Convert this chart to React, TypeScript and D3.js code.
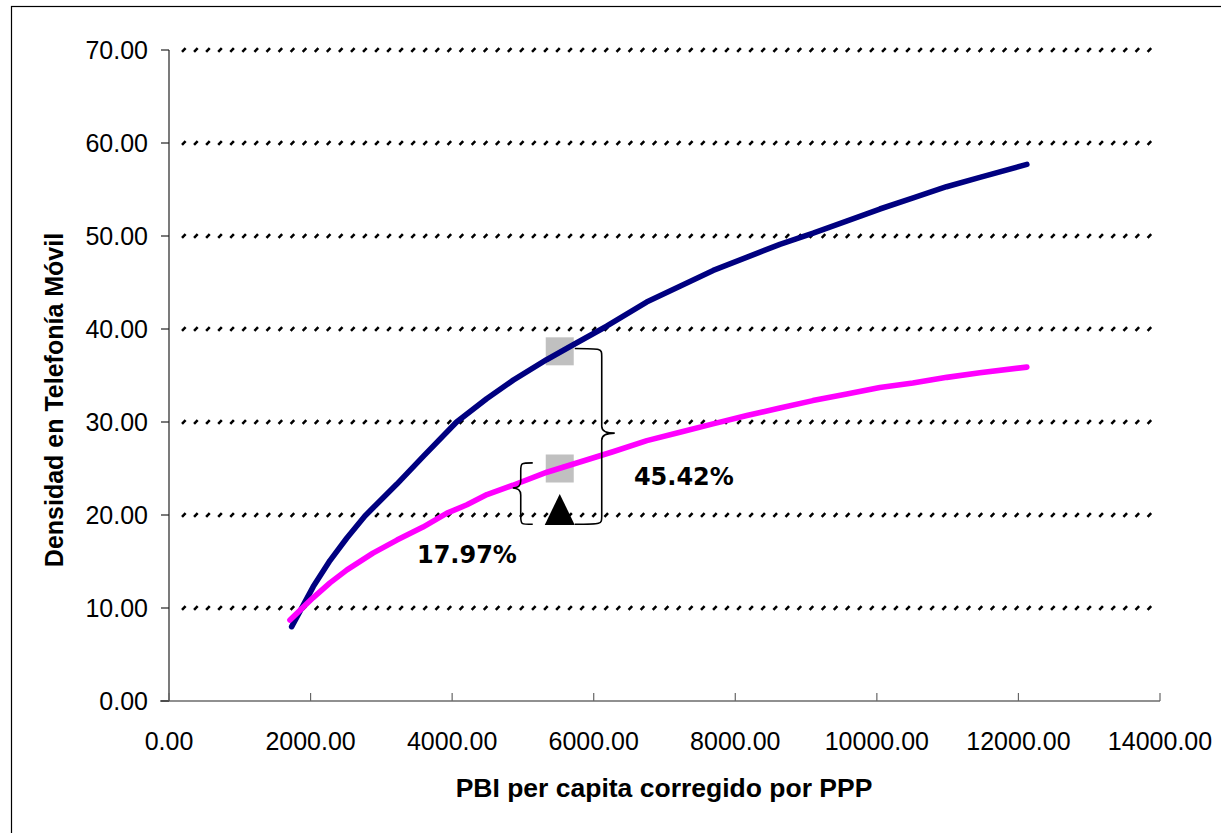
import React, {useRef, useEffect} from 'react';
import * as d3 from 'd3';

// PBI per capita (PPP) vs densidad movil - curva superior
const blueX = [1733, 2038, 2274, 2510, 2768, 3216, 3592, 4063, 4487, 4863, 5334, 5711, 6182, 6747, 7218, 7688, 8159, 8630, 9100, 9572, 10042, 10513, 10984, 11455, 12119];
const blueY = [7.99, 12.3, 15.1, 17.5, 19.9, 23.3, 26.3, 30.0, 32.5, 34.5, 36.7, 38.3, 40.3, 42.9, 44.6, 46.3, 47.7, 49.1, 50.3, 51.6, 52.9, 54.1, 55.3, 56.3, 57.7];

// curva inferior
const pinkX = [1709, 2034, 2274, 2514, 2881, 3220, 3588, 3927, 4209, 4492, 4859, 5339, 5805, 6271, 6751, 7218, 7684, 8164, 8630, 9096, 9576, 10042, 10508, 10989, 11455, 12119];
const pinkY = [8.7, 11.1, 12.7, 14.1, 15.9, 17.3, 18.7, 20.2, 21.1, 22.2, 23.2, 24.6, 25.7, 26.8, 28.0, 28.9, 29.8, 30.7, 31.5, 32.3, 33.0, 33.7, 34.2, 34.8, 35.3, 35.9];

const xTicks = [0, 2000, 4000, 6000, 8000, 10000, 12000, 14000];
const yTicks = [0, 10, 20, 30, 40, 50, 60, 70];

// marcadores y llaves
const markerX = 5520;
const squareY = [37.6, 25.0];
const triangleY = 20.6;
const smallBrace = {top: 25.6, tip: 22.9, bottom: 19.0};
const bigBrace = {top: 37.9, tip: 28.8, bottom: 19.0};
const labels = [
    {text: '45.42%', x: 6568, y: 23.2},
    {text: '17.97%', x: 3503, y: 14.84},
];

const W = 1221;
const H = 833;

const App: React.FC = () => {
    const svgRef = useRef<SVGSVGElement>(null);

    useEffect(() => {
        if (!svgRef.current) return;
        const svg = d3.select(svgRef.current);
        svg.selectAll('*').remove();

        const x = d3.scaleLinear().domain([0, 14000]).range([169, 1160]);
        const y = d3.scaleLinear().domain([0, 70]).range([701, 50]);

        // marco exterior
        svg.append('rect')
            .attr('x', 11.5).attr('y', 6.5)
            .attr('width', W + 20).attr('height', H + 20)
            .style('fill', '#fff').style('stroke', '#000').style('stroke-width', 1.2);

        // lineas de grilla punteadas
        const gx = d3.range(x(0) + 13, x(14000) - 4, 12.07);
        yTicks.filter(t => t > 0).forEach(t => {
            const yy = y(t);
            const d = gx.map(px => `M${px},${yy + 1.8}l3.6,-3.6`).join('');
            svg.append('path').attr('d', d)
                .style('stroke', '#000').style('stroke-width', 2.6).style('fill', 'none');
        });

        // ejes
        const axisColor = '#222';
        svg.append('line')
            .attr('x1', x(0)).attr('x2', x(0)).attr('y1', y(70)).attr('y2', y(0))
            .style('stroke', axisColor).style('stroke-width', 1.2);
        svg.append('line')
            .attr('x1', x(0) - 9).attr('x2', x(14000)).attr('y1', y(0)).attr('y2', y(0))
            .style('stroke', axisColor).style('stroke-width', 1.2);

        yTicks.forEach(t => {
            svg.append('line')
                .attr('x1', x(0) - 8).attr('x2', x(0)).attr('y1', y(t)).attr('y2', y(t))
                .style('stroke', axisColor).style('stroke-width', 1.2);
            svg.append('text')
                .attr('x', 148).attr('y', y(t) + 9)
                .attr('text-anchor', 'end')
                .style('font-family', '"Liberation Sans", Arial, sans-serif')
                .style('font-size', '25px')
                .text(d3.format('.2f')(t));
        });

        xTicks.forEach(t => {
            svg.append('line')
                .attr('x1', x(t)).attr('x2', x(t)).attr('y1', y(0) - 8).attr('y2', y(0))
                .style('stroke', '#666').style('stroke-width', 1.2);
            svg.append('text')
                .attr('x', x(t)).attr('y', 750)
                .attr('text-anchor', 'middle')
                .style('font-family', '"Liberation Sans", Arial, sans-serif')
                .style('font-size', '25px')
                .text(d3.format('.2f')(t));
        });

        // titulos de ejes
        svg.append('text')
            .attr('x', 664).attr('y', 797)
            .attr('text-anchor', 'middle')
            .style('font-family', '"Liberation Sans", Arial, sans-serif')
            .style('font-size', '26.5px').style('font-weight', 'bold')
            .text('PBI per capita corregido por PPP');
        svg.append('text')
            .attr('transform', 'translate(63,400) rotate(-90)')
            .attr('text-anchor', 'middle')
            .style('font-family', '"Liberation Sans", Arial, sans-serif')
            .style('font-size', '25px').style('font-weight', 'bold')
            .text('Densidad en Telefonía Móvil');

        // cuadrados grises
        squareY.forEach(v => {
            svg.append('rect')
                .attr('x', x(markerX) - 14).attr('y', y(v) - 14)
                .attr('width', 28).attr('height', 28)
                .style('fill', '#C0C0C0');
        });

        // curvas
        const line = d3.line<[number, number]>()
            .x(d => x(d[0]))
            .y(d => y(d[1]));

        const series = [
            {xs: blueX, ys: blueY, color: '#000080'},
            {xs: pinkX, ys: pinkY, color: '#FF00FF'},
        ];
        series.forEach(s => {
            const pts = s.xs.map((v, i) => [v, s.ys[i]] as [number, number]);
            svg.append('path')
                .attr('d', line(pts) || '')
                .style('fill', 'none')
                .style('stroke', s.color)
                .style('stroke-width', 5.6)
                .style('stroke-linejoin', 'round')
                .style('stroke-linecap', 'round');
        });

        // triangulo
        const tx = x(markerX);
        const ty = y(triangleY);
        svg.append('path')
            .attr('d', `M${tx},${ty - 15.5}L${tx + 15},${ty + 15.5}L${tx - 15},${ty + 15.5}Z`)
            .style('fill', '#000');

        // llaves
        const brace = (xHook: number, xBar: number, xTip: number, top: number, tip: number, bottom: number) => {
            const yt = y(top), ym = y(tip), yb = y(bottom);
            const dt = xTip - xBar;
            return `M${xHook},${yt}` +
                `C${xBar},${yt} ${xBar},${yt} ${xBar},${yt + 8}` +
                `L${xBar},${ym - 7}` +
                `C${xBar},${ym - 2} ${xBar + dt * 0.4},${ym} ${xTip},${ym}` +
                `C${xBar + dt * 0.4},${ym} ${xBar},${ym + 2} ${xBar},${ym + 7}` +
                `L${xBar},${yb - 8}` +
                `C${xBar},${yb} ${xBar},${yb} ${xHook},${yb}`;
        };
        svg.append('path')
            .attr('d', brace(tx - 27, tx - 39, tx - 47, smallBrace.top, smallBrace.tip, smallBrace.bottom))
            .style('fill', 'none').style('stroke', '#000').style('stroke-width', 1.6);
        svg.append('path')
            .attr('d', brace(tx + 15, tx + 42, tx + 55, bigBrace.top, bigBrace.tip, bigBrace.bottom))
            .style('fill', 'none').style('stroke', '#000').style('stroke-width', 1.6);

        // etiquetas porcentuales
        labels.forEach(l => {
            svg.append('text')
                .attr('x', x(l.x)).attr('y', y(l.y))
                .style('font-family', '"DejaVu Sans", Verdana, sans-serif')
                .style('font-size', '24px').style('font-weight', 'bold')
                .text(l.text);
        });
    }, []);

    return (
        <svg
            ref={svgRef}
            width={W}
            height={H}
            viewBox={`0 0 ${W} ${H}`}
            style={{position: 'absolute', left: 0, top: 0, background: '#fff'}}
        />
    );
};

export default App;
